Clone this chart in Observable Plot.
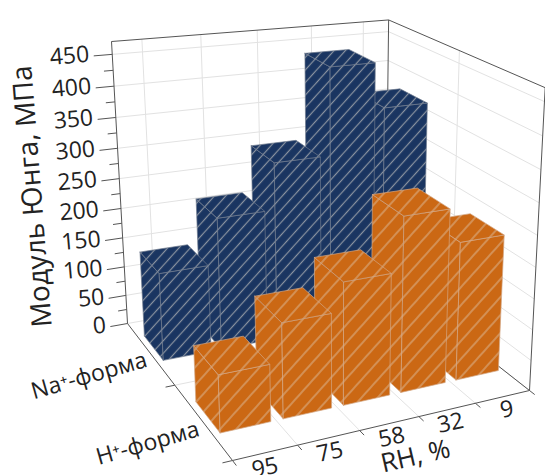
<!DOCTYPE html>
<html><head><meta charset="utf-8">
<style>html,body{margin:0;padding:0;background:#fff}svg{display:block}</style>
<script src="https://cdn.jsdelivr.net/npm/d3@7"></script>
<script src="https://cdn.jsdelivr.net/npm/@observablehq/plot@0.6"></script>
</head><body><div id="c"></div>
<script>
const rhLabels = ["95","75","58","32","9"];
const formLabels = ["Na⁺-форма","H⁺-форма"];
const naValues = [145,220,297,440,365];
const hValues = [90,150,195,280,225];
const valueTicks = [0,50,100,150,200,250,300,350,400,450];
const minorTicks = [25,75,125,175,225,275,325,375,425];
const hMax = 470;

// perspective camera: floor corners + vertical vanishing point
const A=[127,323],D=[385,277],C=[529,390],B=[232,460],VP=[339,4060],Atop=41;
const H=(()=>{const dx1=D[0]-C[0],dx2=B[0]-C[0],sx=A[0]-D[0]+C[0]-B[0],dy1=D[1]-C[1],dy2=B[1]-C[1],sy=A[1]-D[1]+C[1]-B[1];
 const det=dx1*dy2-dx2*dy1,g=(sx*dy2-dx2*sy)/det,h=(dx1*sy-sx*dy1)/det;
 return [D[0]-A[0]+g*D[0],B[0]-A[0]+h*B[0],A[0],D[1]-A[1]+g*D[1],B[1]-A[1]+h*B[1],A[1],g,h,1];})();
const k=(323-Atop)/(Atop-VP[1]);
function P(u,v,val){const t=val/hMax*k,w=H[6]*u+H[7]*v+1+t;
 return [(H[0]*u+H[1]*v+H[2]+t*VP[0])/w,(H[3]*u+H[4]*v+H[5]+t*VP[1])/w];}
const pt=(u,v,val,o={})=>{const p=P(u,v,val);return {x:p[0],y:p[1],...o};};

function faces(values,v0,v1,width,shift){
 const out=[];
 [4,3,2,1,0].forEach(i=>{const u0=(i+.5)/5-width/10+shift,u1=(i+.5)/5+width/10+shift,h=values[i];
  const add=(name,pts)=>pts.concat([pts[0]]).forEach(q=>out.push(pt(q[0],q[1],q[2],{z:i+name})));
  add("l",[[u0,v0,0],[u0,v1,0],[u0,v1,h],[u0,v0,h]]);
  add("f",[[u0,v1,0],[u1,v1,0],[u1,v1,h],[u0,v1,h]]);
  add("t",[[u0,v0,h],[u1,v0,h],[u1,v1,h],[u0,v1,h]]);
 });
 return out;}
const blue=faces(naValues,.12,.32,.82,.004), orange=faces(hValues,.63,.84,.80,.003);

const seg=(a,b)=>({x1:a.x,y1:a.y,x2:b.x,y2:b.y});
const grid=[];
valueTicks.forEach(t=>{grid.push(seg(pt(0,0,t),pt(1,0,t)));grid.push(seg(pt(1,0,t),pt(1,1,t)));});
rhLabels.forEach((_,i)=>grid.push(seg(pt((i+.5)/5,0,0),pt((i+.5)/5,0,hMax))));
grid.push(seg(pt(1,.5,0),pt(1,.5,hMax)));
[1,2,3,4].forEach(i=>grid.push(seg(pt(i/5,0,0),pt(i/5,1,0))));
grid.push(seg(pt(0,.5,0),pt(1,.5,0)));
const frame=[
 seg(pt(0,0,0),pt(0,0,hMax)),seg(pt(0,0,hMax),pt(1,0,hMax)),seg(pt(1,0,hMax),pt(1,1,hMax)),
 seg(pt(1,1,hMax),pt(1,1,0)),seg(pt(1,0,hMax),pt(1,0,0)),seg(pt(0,0,0),pt(0,1,0)),seg(pt(0,1,0),pt(1,1,0)),seg(pt(1,1,0),pt(1,0,0))];
const ticks=[];
valueTicks.forEach(t=>ticks.push(seg(pt(-.06,0,t),pt(0,0,t))));
minorTicks.forEach(t=>ticks.push(seg(pt(-.03,0,t),pt(0,0,t))));
[0,1,2,3,4,5].forEach(i=>ticks.push(seg(pt(i/5,1.03,0),pt(i/5,1,0))));
[.5,1].forEach(v=>ticks.push(seg(pt(-.03,v,0),pt(0,v,0))));

const vLabels=valueTicks.map(t=>pt(-.075,0,t,{text:String(t)}));
const rhText=rhLabels.map((t,i)=>pt((i+.5)/5-.032,1.075,0,{text:t}));
const formText=formLabels.map((t,i)=>pt(-.025,(i+.5)/2+.04,0,{text:t}));

const font='"Open Sans",sans-serif';
const hatch=(id,bg,line,step)=>`<pattern id="${id}" width="${step}" height="${step}" patternUnits="userSpaceOnUse" patternTransform="rotate(-48)"><rect width="${step}" height="${step}" fill="${bg}"/><line x1="0" y1="${step/2}" x2="${step}" y2="${step/2}" stroke="${line}" stroke-width="1.2"/></pattern>`;

const chart=Plot.plot({width:545,height:475,margin:0,
 x:{domain:[0,545],range:[0,545],axis:null},y:{domain:[0,475],range:[0,475],axis:null},
 style:{background:"#fff",fontFamily:font},
 marks:[
  ()=>{const g=document.createElementNS("http://www.w3.org/2000/svg","g");g.innerHTML=`<defs>${hatch("hb","#1a3561","#8b93a0",8.4)}${hatch("ho","#cb6814","#d9ab80",12)}</defs>`;return g;},
  Plot.link(grid,{x1:"x1",y1:"y1",x2:"x2",y2:"y2",stroke:"#e2e2e2",strokeWidth:1}),
  Plot.link(frame,{x1:"x1",y1:"y1",x2:"x2",y2:"y2",stroke:"#555",strokeWidth:1}),
  Plot.link(ticks,{x1:"x1",y1:"y1",x2:"x2",y2:"y2",stroke:"#555",strokeWidth:1}),
  Plot.line(blue,{x:"x",y:"y",z:"z",fill:"url(#hb)",stroke:"#6f7a8c",strokeWidth:.7}),
  Plot.line(orange,{x:"x",y:"y",z:"z",fill:"url(#ho)",stroke:"#d2a684",strokeWidth:.7}),
  Plot.text(vLabels,{x:"x",y:"y",dy:-2,text:"text",textAnchor:"end",rotate:-5,fontSize:23,fill:"#222"}),
  Plot.text(rhText,{x:"x",y:"y",text:"text",rotate:-12,fontSize:23,fill:"#222"}),
  Plot.text(formText,{x:"x",y:"y",text:"text",textAnchor:"end",rotate:-16,fontSize:23,fill:"#222"}),
  Plot.text(["Модуль Юнга, МПа"],{x:()=>32,y:()=>196,text:d=>d,rotate:-94.5,fontSize:28,fill:"#222"}),
  Plot.text(["RH, %"],{x:()=>415,y:()=>456,text:d=>d,rotate:-13,fontSize:26,fill:"#222"})
 ]});
document.getElementById("c").append(chart);
</script></body></html>
